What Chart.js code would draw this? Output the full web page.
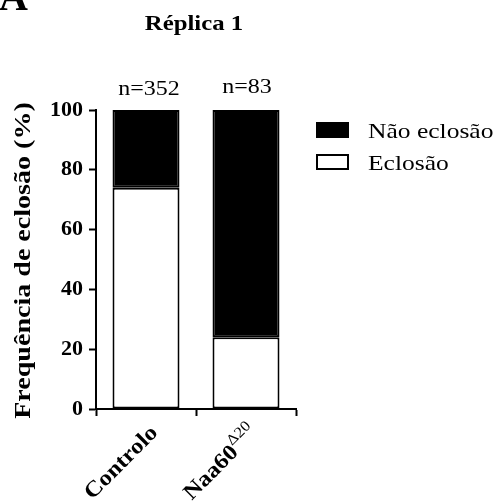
<!DOCTYPE html>
<html>
  <head>
    <title>Réplica 1</title>
    <style>
      html, body{ margin: 0; padding: 0; background-color: #ffffff; }
      .container{ position: relative; width: 497px; height: 504px; }
    </style>
    <script src="https://cdn.jsdelivr.net/npm/chart.js"></script>
  </head>
  <body>
    <div class="container">
      <canvas id="myChart" width="497" height="504"></canvas>
    </div>

    <script>
      // Data
      const groups = ['Controlo', 'Naa60'];
      const groupSup = ['', 'Δ20'];
      const counts = ['n=352', 'n=83'];
      const eclosao = [74, 24];
      const naoEclosao = [26, 76];
      const yTicks = [0, 20, 40, 60, 80, 100];

      const serif = "'Liberation Serif', 'Times New Roman', serif";
      Chart.defaults.font.family = serif;
      Chart.defaults.color = '#000';

      // text drawn a little wider than the font, like the original figure
      function stretchText(ctx, text, x, y, font, sx, align, angle) {
        ctx.save();
        ctx.translate(x, y);
        if (angle) ctx.rotate(angle);
        ctx.scale(sx, 1);
        ctx.font = font;
        ctx.textAlign = align;
        ctx.fillText(text, 0, 0);
        ctx.restore();
      }

      // Extra text: panel letter, title, n counts, axis title, rotated labels, legend
      const annotations = {
        id: 'annotations',
        afterDraw(chart) {
          const ctx = chart.ctx;
          const x = chart.scales.x;
          const y = chart.scales.y;
          ctx.save();
          ctx.fillStyle = '#000';
          ctx.textBaseline = 'alphabetic';

          stretchText(ctx, 'A', -1, 10, 'bold 40px ' + serif, 1, 'left', 0);
          stretchText(ctx, 'Réplica 1', 194, 30, 'bold 21px ' + serif, 1.18, 'center', 0);

          const nBase = [95, 93];
          const nShift = [3, 1];
          counts.forEach((c, i) => {
            stretchText(ctx, c, x.getPixelForValue(i) + nShift[i], nBase[i], '20px ' + serif, 1.2, 'center', 0);
          });

          // y axis title
          const midY = (y.top + y.bottom) / 2 + 1;
          stretchText(ctx, 'Frequência de eclosão (%)', 30, midY, 'bold 23px ' + serif, 1.22, 'center', -Math.PI / 2);

          // rotated category labels
          groups.forEach((g, i) => {
            ctx.save();
            ctx.translate(x.getPixelForValue(i) + 1, 422);
            ctx.rotate(-Math.PI / 4);
            ctx.scale(1.12, 1);
            ctx.textBaseline = 'top';
            ctx.textAlign = 'right';
            let off = 0;
            if (groupSup[i]) {
              ctx.font = '15px ' + serif;
              off = ctx.measureText(groupSup[i]).width;
              ctx.fillText(groupSup[i], 0, -5);
            }
            ctx.font = 'bold 22px ' + serif;
            ctx.fillText(g, -off, 0);
            ctx.restore();
          });

          // legend, top dataset first
          const items = chart.data.datasets.slice().reverse();
          const legBase = [138, 170];
          items.forEach((ds, i) => {
            const by = legBase[i] - 15;
            ctx.fillStyle = ds.backgroundColor;
            ctx.fillRect(317, by, 31, 14);
            ctx.lineWidth = 2;
            ctx.strokeStyle = '#000';
            ctx.strokeRect(317, by, 31, 14);
            ctx.fillStyle = '#000';
            stretchText(ctx, ds.label, 368, legBase[i], '22px ' + serif, 1.16, 'left', 0);
          });
          ctx.restore();
        }
      };

      const ctx = document.getElementById('myChart').getContext('2d');
      const myChart = new Chart(ctx, {
        type: 'bar',
        data: {
          labels: groups,
          datasets: [
            {
              label: 'Eclosão',
              data: eclosao,
              backgroundColor: '#ffffff',
              borderColor: '#000',
              borderWidth: 2,
              borderSkipped: false,
              barPercentage: 0.67,
              categoryPercentage: 1
            },
            {
              label: 'Não eclosão',
              data: naoEclosao,
              backgroundColor: '#000000',
              borderColor: '#000',
              borderWidth: 2,
              borderSkipped: false,
              barPercentage: 0.67,
              categoryPercentage: 1
            }
          ]
        },
        options: {
          responsive: false,
          animation: false,
          layout: { padding: { top: 110, right: 201, left: 0, bottom: 0 } },
          scales: {
            x: {
              stacked: true,
              afterFit: s => { s.height = 95; },
              grid: { drawOnChartArea: false, tickLength: 7, tickWidth: 2, tickColor: '#000', offset: true },
              border: { color: '#000', width: 2 },
              ticks: { color: 'rgba(0,0,0,0)' }
            },
            y: {
              stacked: true,
              min: 0,
              max: 100,
              afterFit: s => { s.width = 96; },
              afterBuildTicks: s => { s.ticks = yTicks.map(v => ({ value: v })); },
              grid: { drawOnChartArea: false, tickLength: 7, tickWidth: 2, tickColor: '#000' },
              border: { color: '#000', width: 2 },
              ticks: { padding: 6, font: { size: 22, weight: 'bold' } }
            }
          },
          plugins: {
            legend: { display: false },
            tooltip: { enabled: false }
          }
        },
        plugins: [annotations]
      });
    </script>
  </body>
</html>
